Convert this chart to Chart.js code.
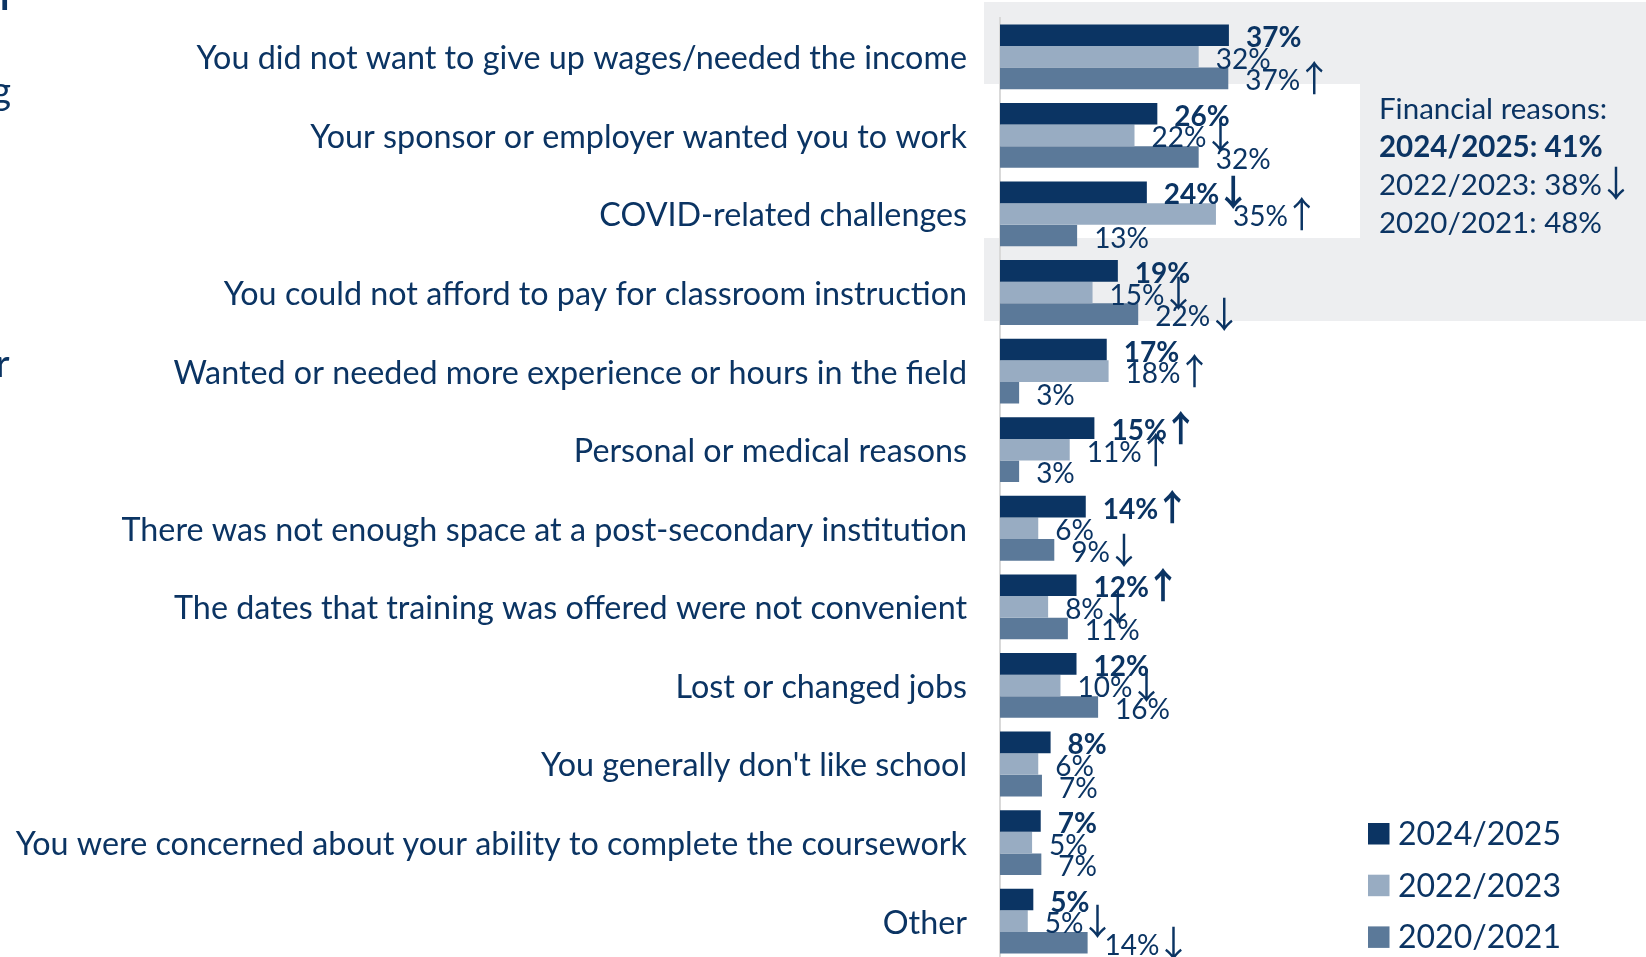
<!DOCTYPE html>
<html><head><meta charset="utf-8">
<script src="https://cdn.jsdelivr.net/npm/chart.js@4.4.0/dist/chart.umd.min.js"></script>
<style>html,body{margin:0;padding:0;overflow:hidden;background:#fff;width:1646px;height:957px}canvas{display:block}</style>
</head><body>
<canvas id="c" width="1646" height="975"></canvas>
<script>
const categories = [
  "You did not want to give up wages/needed the income",
  "Your sponsor or employer wanted you to work",
  "COVID-related challenges",
  "You could not afford to pay for classroom instruction",
  "Wanted or needed more experience or hours in the field",
  "Personal or medical reasons",
  "There was not enough space at a post-secondary institution",
  "The dates that training was offered were not convenient",
  "Lost or changed jobs",
  "You generally don't like school",
  "You were concerned about your ability to complete the coursework",
  "Other"
];
const seriesNames = ["2024/2025", "2022/2023", "2020/2021"];
const values2425 = [37.1, 25.5, 23.8, 19.1, 17.3, 15.3, 13.9, 12.4, 12.4, 8.2, 6.6, 5.4];
const values2223 = [32.2, 21.8, 35.0, 15.0, 17.6, 11.3, 6.2, 7.8, 9.8, 6.2, 5.2, 4.5];
const values2021 = [37.0, 32.2, 12.5, 22.4, 3.1, 3.1, 8.8, 11.0, 15.9, 6.8, 6.7, 14.2];
const labels2425 = ["37%","26%","24%","19%","17%","15%","14%","12%","12%","8%","7%","5%"];
const labels2223 = ["32%","22%","35%","15%","18%","11%","6%","8%","10%","6%","5%","5%"];
const labels2021 = ["37%","32%","13%","22%","3%","3%","9%","11%","16%","7%","7%","14%"];
const arrows2425 = ["","","↓","","","↑","↑","↑","","","",""];
const arrows2223 = ["","↓","↑","↓","↑","↑","","↓","↓","","","↓"];
const arrows2021 = ["↑","","","↓","","","↓","","","","","↓"];
const noteLines = ["Financial reasons:", "2024/2025: 41%", "2022/2023: 38%↓", "2020/2021: 48%"];
const leftFragments = ["l", "g", "r"];

const TEXT = "#0B3463";
const COLORS = ["#0B3463", "#98ACC2", "#5B7999"];
const ARROW_FONT = "'Noto Sans CJK JP', 'DejaVu Sans', sans-serif";

const datasets = [
  {label: seriesNames[0], data: values2425, backgroundColor: COLORS[0], valueLabels: labels2425, arrows: arrows2425},
  {label: seriesNames[1], data: values2223, backgroundColor: COLORS[1], valueLabels: labels2223, arrows: arrows2223},
  {label: seriesNames[2], data: values2021, backgroundColor: COLORS[2], valueLabels: labels2021, arrows: arrows2021}
];

const bgPlugin = {
  id: "bg",
  beforeDraw(chart) {
    const ctx = chart.ctx;
    ctx.save();
    ctx.fillStyle = "#EDEEF0";
    ctx.fillRect(984, 2, 1646 - 984, 321 - 2);
    ctx.fillStyle = "#FFFFFF";
    ctx.fillRect(984, 84, 1360 - 984, 238 - 84);
    ctx.restore();
  }
};

function drawArrow(ctx, arrow, x, baseline, bold) {
  ctx.font = (bold ? "bold " : "") + "36px " + ARROW_FONT;
  ctx.fillText(arrow, x, baseline + 2);
}

const labelPlugin = {
  id: "vals",
  afterDatasetsDraw(chart) {
    const ctx = chart.ctx;
    ctx.save();
    ctx.fillStyle = TEXT;
    ctx.textAlign = "left";
    ctx.textBaseline = "alphabetic";
    chart.data.datasets.forEach((ds, di) => {
      const meta = chart.getDatasetMeta(di);
      const bold = di === 0;
      meta.data.forEach((bar, i) => {
        const txt = ds.valueLabels[i];
        const x = bar.x + 17, y = bar.y + 12;
        ctx.font = (bold ? "bold " : "") + "28px Lato";
        ctx.fillText(txt, x, y);
        if (ds.arrows[i]) {
          const w = ctx.measureText(txt).width;
          drawArrow(ctx, ds.arrows[i], x + w - 4, y, bold);
        }
      });
    });
    ctx.restore();
  },
  afterDraw(chart) {
    const ctx = chart.ctx;
    ctx.save();
    ctx.fillStyle = TEXT;
    ctx.textBaseline = "alphabetic";
    ctx.textAlign = "left";
    noteLines.forEach((t, i) => {
      const bold = i === 1;
      ctx.font = (bold ? "bold " : "") + "29.5px Lato";
      const m = t.match(/^(.*?)([↑↓]?)$/);
      const y = 119 + i * 38;
      ctx.fillText(m[1], 1379, y);
      if (m[2]) {
        const w = ctx.measureText(m[1]).width;
        drawArrow(ctx, m[2], 1379 + w - 4, y, bold);
      }
    });
    chart.data.datasets.forEach((ds, i) => {
      const top = 823 + i * 51.7;
      ctx.fillStyle = ds.backgroundColor;
      ctx.fillRect(1368, top, 21.5, 21.5);
      ctx.fillStyle = TEXT;
      ctx.font = "32px Lato";
      ctx.fillText(ds.label, 1398, top + 22);
    });
    ctx.font = "bold 38px Lato";
    ctx.fillText(leftFragments[0], 0, 10);
    ctx.font = "38px Lato";
    ctx.textAlign = "right";
    ctx.fillText(leftFragments[1], 11, 104);
    ctx.fillText(leftFragments[2], 9.5, 377);
    ctx.restore();
  }
};

new Chart(document.getElementById("c"), {
  type: "bar",
  data: {labels: categories, datasets},
  options: {
    indexAxis: "y",
    responsive: false,
    animation: false,
    devicePixelRatio: 1,
    layout: {padding: {left: 0, right: 29, top: 17.5, bottom: 12.5}},
    datasets: {bar: {categoryPercentage: 0.825, barPercentage: 1.0}},
    plugins: {legend: {display: false}, tooltip: {enabled: false}},
    scales: {
      x: {display: false, min: 0, max: 100},
      y: {
        afterFit(scale) { scale.width = 1000; },
        grid: {display: false, drawTicks: true, tickLength: 33},
        border: {display: true, color: "#D9D9D9", width: 2},
        ticks: {color: TEXT, padding: 0, labelOffset: 2, autoSkip: false, font: {family: "Lato", size: 32.3, lineHeight: 0.9}}
      }
    }
  },
  plugins: [bgPlugin, labelPlugin]
});
</script>
</body></html>
